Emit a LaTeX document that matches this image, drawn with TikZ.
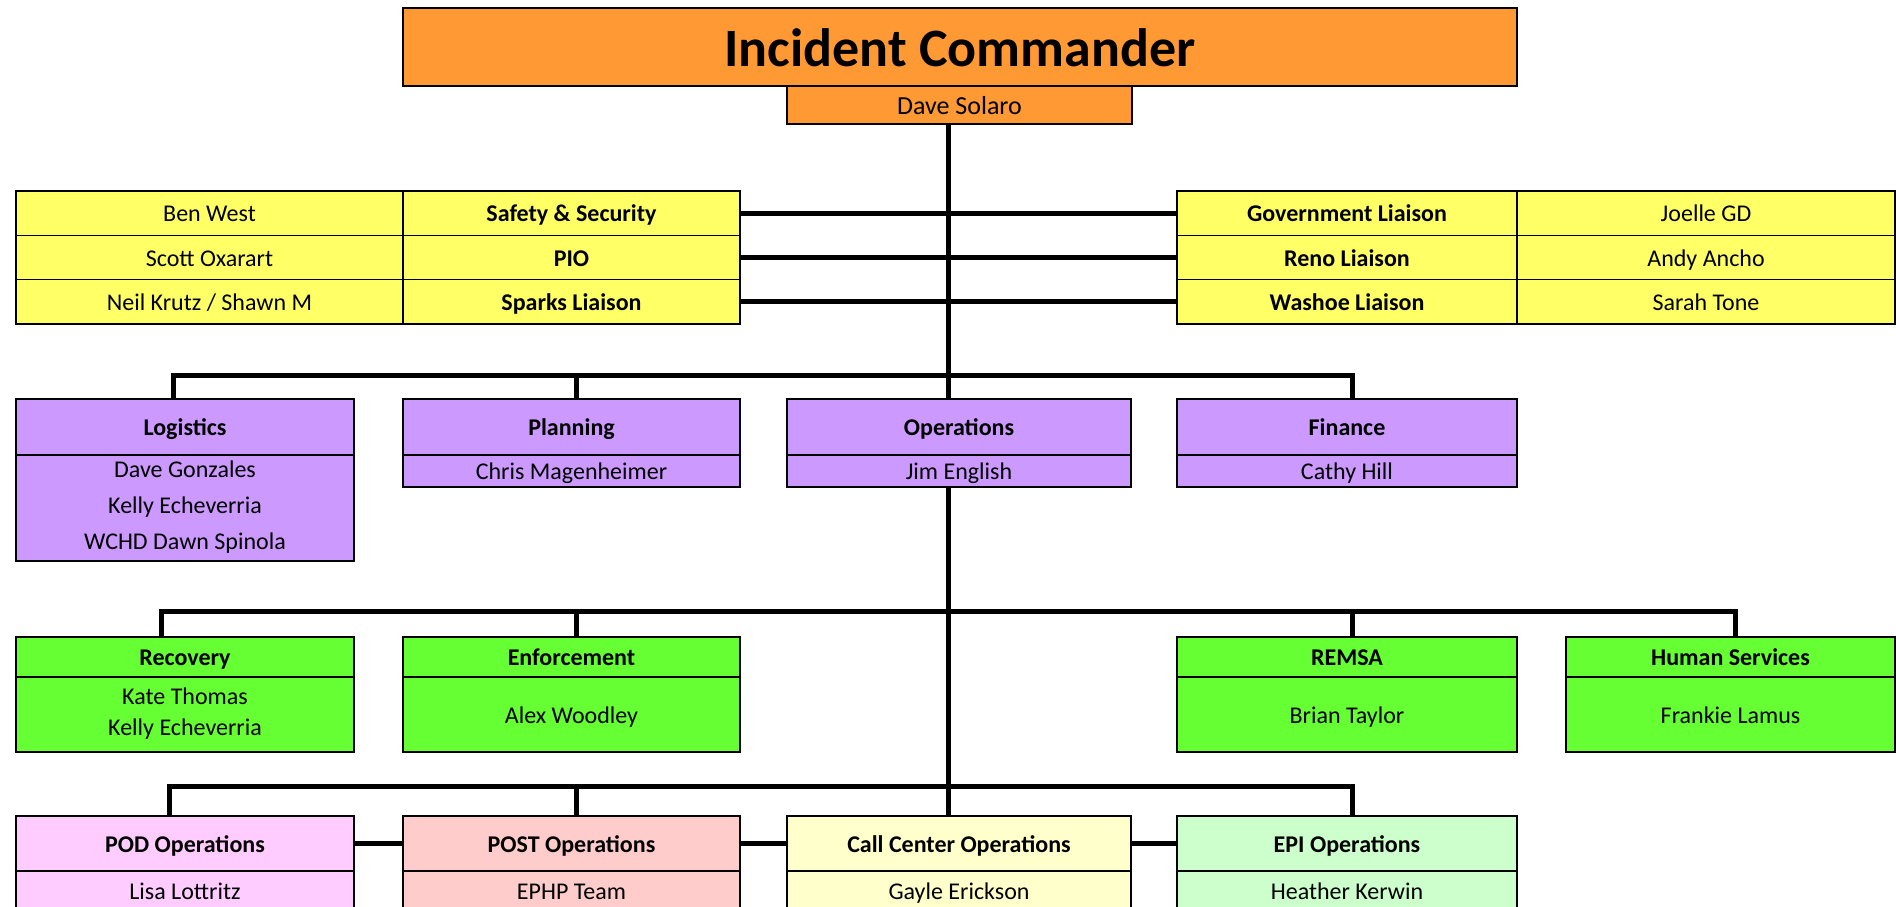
\documentclass[tikz,border=0pt]{standalone}
\usepackage{fontspec}
\setmainfont{Carlito}
\usetikzlibrary{calc}

\definecolor{cmdorange}{HTML}{FF9933}
\definecolor{staffyellow}{HTML}{FFFF66}
\definecolor{sectpurple}{HTML}{CC99FF}
\definecolor{branchgreen}{HTML}{66FF33}
\definecolor{podpink}{HTML}{FFCCFF}
\definecolor{postrose}{HTML}{FFCCCC}
\definecolor{callcream}{HTML}{FFFFCC}
\definecolor{epimint}{HTML}{CCFFCC}

% invisible prop that gives every text line the same height and depth
\newcommand\cellstrut{\rule[-0.22em]{0pt}{1.17em}}

\tikzset{
  cell/.style={draw=black, line width=1.5pt, inner sep=0pt, outer sep=0pt,
    anchor=north west, align=center, text=black,
    font=\fontsize{24}{29}\selectfont,
    execute at begin node=\cellstrut, execute at end node=\cellstrut},
  hd/.style={cell, font=\fontsize{24}{29}\selectfont\bfseries},
  sz/.style 2 args={minimum width=#1pt, minimum height=#2pt},
  conn/.style={draw=black, line width=5pt, line cap=butt, line join=miter},
}

\begin{document}
\begin{tikzpicture}[x=1pt,y=-1pt]
\useasboundingbox (0,0) rectangle (1896,906);
\clip (0,0) rectangle (1896,906);

% command
\node[cell, fill=cmdorange, sz={1114}{78}, font=\fontsize{54}{60}\selectfont\bfseries] (ic) at (403,8) {Incident Commander};
\node[cell, fill=cmdorange, sz={345}{38}, font=\fontsize{26}{30}\selectfont] (ds) at (787,86) {Dave Solaro};

% command staff, left block
\node[cell, fill=staffyellow, sz={387}{44.3}] (bw) at (16,191) {Ben West};
\node[hd, fill=staffyellow, sz={337}{44.3}] (safety) at (403,191) {Safety \& Security};
\node[cell, fill=staffyellow, sz={387}{44.3}] (so) at (16,235.3) {Scott Oxarart};
\node[hd, fill=staffyellow, sz={337}{44.3}] (pio) at (403,235.3) {PIO};
\node[cell, fill=staffyellow, sz={387}{44.3}] (nk) at (16,279.6) {Neil Krutz / Shawn M};
\node[hd, fill=staffyellow, sz={337}{44.3}] (sparks) at (403,279.6) {Sparks Liaison};

% command staff, right block
\node[hd, fill=staffyellow, sz={340}{44.3}] (gov) at (1177,191) {Government Liaison};
\node[cell, fill=staffyellow, sz={378}{44.3}] (jg) at (1517,191) {Joelle GD};
\node[hd, fill=staffyellow, sz={340}{44.3}] (reno) at (1177,235.3) {Reno Liaison};
\node[cell, fill=staffyellow, sz={378}{44.3}] (aa) at (1517,235.3) {Andy Ancho};
\node[hd, fill=staffyellow, sz={340}{44.3}] (washoe) at (1177,279.6) {Washoe Liaison};
\node[cell, fill=staffyellow, sz={378}{44.3}] (st) at (1517,279.6) {Sarah Tone};

% general staff sections
\node[hd, fill=sectpurple, sz={338}{56}] (log) at (16,399) {Logistics};
\node[cell, fill=sectpurple, sz={338}{106}, font=\fontsize{24}{36}\selectfont] (logn) at (16,455) {Dave Gonzales\\Kelly Echeverria\\WCHD Dawn Spinola};
\node[hd, fill=sectpurple, sz={337}{56}] (plan) at (403,399) {Planning};
\node[cell, fill=sectpurple, sz={337}{32}] (plann) at (403,455) {Chris Magenheimer};
\node[hd, fill=sectpurple, sz={344}{56}] (ops) at (787,399) {Operations};
\node[cell, fill=sectpurple, sz={344}{32}] (opsn) at (787,455) {Jim English};
\node[hd, fill=sectpurple, sz={340}{56}] (fin) at (1177,399) {Finance};
\node[cell, fill=sectpurple, sz={340}{32}] (finn) at (1177,455) {Cathy Hill};

% operations branches
\node[hd, fill=branchgreen, sz={338}{40}] (rec) at (16,637) {Recovery};
\node[cell, fill=branchgreen, sz={338}{75}, font=\fontsize{24}{31}\selectfont] (recn) at (16,677) {Kate Thomas\\Kelly Echeverria};
\node[hd, fill=branchgreen, sz={337}{40}] (enf) at (403,637) {Enforcement};
\node[cell, fill=branchgreen, sz={337}{75}] (enfn) at (403,677) {Alex Woodley};
\node[hd, fill=branchgreen, sz={340}{40}] (remsa) at (1177,637) {REMSA};
\node[cell, fill=branchgreen, sz={340}{75}] (remsan) at (1177,677) {Brian Taylor};
\node[hd, fill=branchgreen, sz={329}{40}] (hs) at (1566,637) {Human Services};
\node[cell, fill=branchgreen, sz={329}{75}] (hsn) at (1566,677) {Frankie Lamus};

% operations units
\node[hd, fill=podpink, sz={338}{55}] (pod) at (16,816) {POD Operations};
\node[cell, fill=podpink, sz={338}{40}] (podn) at (16,871) {Lisa Lottritz};
\node[hd, fill=postrose, sz={337}{55}] (post) at (403,816) {POST Operations};
\node[cell, fill=postrose, sz={337}{40}] (postn) at (403,871) {EPHP Team};
\node[hd, fill=callcream, sz={344}{55}] (call) at (787,816) {Call Center Operations};
\node[cell, fill=callcream, sz={344}{40}] (calln) at (787,871) {Gayle Erickson};
\node[hd, fill=epimint, sz={340}{55}] (epi) at (1177,816) {EPI Operations};
\node[cell, fill=epimint, sz={340}{40}] (epin) at (1177,871) {Heather Kerwin};

% drop positions of the buses
\coordinate (tk) at (948,0);
\coordinate (p1) at (173,0);
\coordinate (p2) at (576,0);
\coordinate (p4) at (1352,0);
\coordinate (g1) at (161,0);
\coordinate (g5) at (1735,0);
\coordinate (b1) at (169,0);

% main trunk
\draw[conn] (ds.south -| tk) -- (ops.north -| tk);
\draw[conn] (opsn.south -| tk) -- (call.north -| tk);

% command staff links
\draw[conn] (safety.east) -- (gov.west);
\draw[conn] (pio.east) -- (reno.west);
\draw[conn] (sparks.east) -- (washoe.west);

% section bus
\draw[conn] (log.north -| p1) -- ++(0,-24) -| (fin.north -| p4);
\draw[conn] (plan.north -| p2) -- ++(0,-24);

% branch bus
\draw[conn] (rec.north -| g1) -- ++(0,-26) -| (hs.north -| g5);
\draw[conn] (enf.north -| p2) -- ++(0,-26);
\draw[conn] (remsa.north -| p4) -- ++(0,-26);

% unit bus
\draw[conn] (pod.north -| b1) -- ++(0,-30) -| (epi.north -| p4);
\draw[conn] (post.north -| p2) -- ++(0,-30);

% links between units
\draw[conn] (pod.east) -- (post.west);
\draw[conn] (post.east) -- (call.west);
\draw[conn] (call.east) -- (epi.west);
\end{tikzpicture}
\end{document}
